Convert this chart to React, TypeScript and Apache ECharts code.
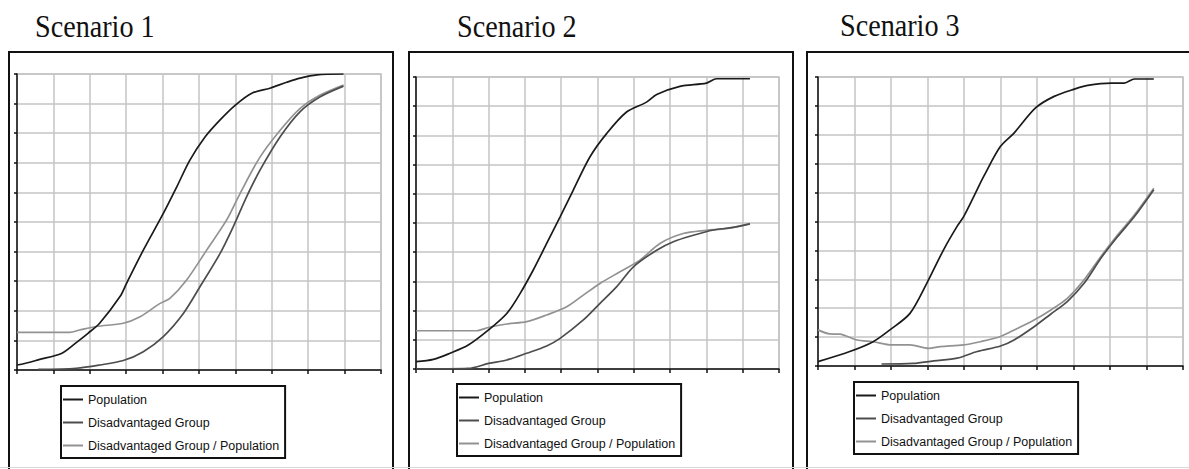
import React, { useEffect, useRef } from "react";
import * as echarts from "echarts";

const titles = ["Scenario 1", "Scenario 2", "Scenario 3"];
const seriesNames = ["Population", "Disadvantaged Group", "Disadvantaged Group / Population"];

const s1Population = [[0,0.017],[0.21,0.022],[0.6,0.035],[1.22,0.056],[1.6,0.09],[1.95,0.124],[2.27,0.158],[2.83,0.248],[3.01,0.293],[3.47,0.405],[4.02,0.529],[4.39,0.619],[4.75,0.709],[5.17,0.788],[5.58,0.845],[6.0,0.895],[6.45,0.935],[6.95,0.952],[7.41,0.972],[7.78,0.986],[8.24,0.997],[8.97,1.0]];
const s1Disadv = [[0.58,0.002],[1.63,0.006],[2.28,0.017],[2.92,0.032],[3.47,0.062],[4.02,0.113],[4.57,0.191],[5.03,0.282],[5.58,0.394],[5.94,0.484],[6.31,0.586],[6.68,0.676],[7.23,0.788],[7.78,0.873],[8.33,0.923],[8.97,0.959]];
const s1Ratio = [[0,0.127],[1.45,0.127],[1.72,0.135],[2.18,0.147],[2.92,0.158],[3.38,0.18],[3.93,0.225],[4.2,0.242],[4.66,0.304],[5.21,0.405],[5.76,0.507],[6.13,0.597],[6.68,0.72],[7.23,0.81],[7.78,0.884],[8.33,0.929],[8.97,0.963]];

const s2Population = [[0,0.025],[0.48,0.033],[0.94,0.054],[1.44,0.082],[1.99,0.133],[2.5,0.19],[2.87,0.259],[3.23,0.339],[3.6,0.43],[3.97,0.521],[4.33,0.612],[4.79,0.726],[5.25,0.806],[5.8,0.88],[6.35,0.914],[6.63,0.94],[7.27,0.968],[8.0,0.979],[8.28,0.994],[9.2,0.994]];
const s2Disadv = [[0,0],[1.44,0.002],[2.0,0.019],[2.5,0.031],[3.05,0.054],[3.6,0.079],[3.97,0.105],[4.61,0.168],[5.07,0.225],[5.53,0.282],[5.99,0.35],[6.63,0.407],[7.09,0.436],[7.64,0.458],[8.19,0.476],[8.74,0.485],[9.2,0.497]];
const s2Ratio = [[0,0.131],[1.67,0.131],[1.99,0.142],[2.5,0.154],[3.05,0.162],[3.6,0.185],[4.15,0.213],[4.61,0.253],[5.07,0.293],[5.62,0.333],[6.17,0.373],[6.72,0.43],[7.36,0.464],[8.0,0.475],[8.55,0.481],[9.2,0.498]];

const s3Population = [[0,0.015],[0.87,0.05],[1.51,0.084],[1.97,0.125],[2.52,0.182],[2.98,0.286],[3.44,0.402],[3.81,0.483],[3.99,0.517],[4.27,0.587],[4.54,0.656],[5.0,0.76],[5.37,0.806],[5.96,0.893],[6.47,0.933],[7.02,0.958],[7.39,0.971],[8.03,0.979],[8.39,0.979],[8.67,0.993],[9.2,0.993]];
const s3Disadv = [[1.74,0.007],[2.61,0.009],[3.17,0.018],[3.81,0.027],[4.36,0.05],[5.0,0.069],[5.37,0.09],[5.92,0.136],[6.38,0.18],[6.83,0.223],[7.29,0.286],[7.75,0.373],[8.21,0.448],[8.67,0.517],[9.2,0.61]];
const s3Ratio = [[0,0.125],[0.32,0.111],[0.6,0.11],[1.06,0.09],[1.51,0.084],[2.02,0.073],[2.52,0.073],[3.03,0.061],[3.35,0.067],[3.99,0.073],[4.45,0.084],[5.0,0.102],[5.46,0.13],[5.92,0.159],[6.38,0.194],[6.83,0.234],[7.29,0.298],[7.75,0.379],[8.21,0.454],[8.67,0.523],[9.2,0.615]];

const panels = [
  [s1Population, s1Disadv, s1Ratio],
  [s2Population, s2Disadv, s2Ratio],
  [s3Population, s3Disadv, s3Ratio],
];

const lineColors = ["#1a1a1a", "#4d4d4d", "#929292"];

const grids = [
  { left: 17, top: 74, width: 364, height: 296 },
  { left: 416, top: 77, width: 363, height: 292 },
  { left: 818, top: 77, width: 365, height: 289 },
];
const titlePos = [[35, 26], [457, 26], [840, 25]];
const legendPos = [[61, 386], [457, 384], [854, 382]];
const frames = [
  [[9, 470], [9, 52], [393, 52], [393, 470]],
  [[409, 470], [409, 52], [793, 52], [793, 470]],
  [[807, 470], [807, 52], [1192, 52]],
];

export default function App() {
  const ref = useRef<HTMLDivElement>(null);
  useEffect(() => {
    if (!ref.current) return;
    const chart = echarts.init(ref.current, null, { renderer: "svg" });
    const gridLine = { show: true, lineStyle: { color: "#c4c4c4", width: 1.5 } };
    const axisLine = { show: true, onZero: false, lineStyle: { color: "#111", width: 1.5 } };
    const series: any[] = [];
    panels.forEach((p, i) => {
      p.forEach((data, j) => {
        series.push({
          type: "line",
          name: seriesNames[j],
          xAxisIndex: i,
          yAxisIndex: i,
          data,
          symbol: "none",
          smooth: 0.3,
          z: 10 - j,
          lineStyle: { color: lineColors[j], width: 1.7 },
          itemStyle: { color: lineColors[j] },
        });
      });
    });
    chart.setOption({
      animation: false,
      backgroundColor: "#ffffff",
      grid: grids.map((g) => ({ ...g, show: true, borderColor: "#bdbdbd", borderWidth: 1.5 })),
      xAxis: grids.map((_, i) => ({
        type: "value", gridIndex: i, min: 0, max: 10, interval: 1,
        axisLabel: { show: false },
        axisLine,
        axisTick: { show: true, length: 4, lineStyle: { color: "#111", width: 1.5 } },
        splitLine: gridLine,
      })),
      yAxis: grids.map((_, i) => ({
        type: "value", gridIndex: i, min: 0, max: 1, interval: 0.1,
        axisLabel: { show: false },
        axisLine,
        axisTick: { show: true, length: 3, lineStyle: { color: "#111", width: 1.5 } },
        splitLine: gridLine,
      })),
      legend: legendPos.map(([x, y]) => ({
        left: x, top: y, orient: "vertical",
        data: seriesNames,
        icon: "rect",
        itemWidth: 20, itemHeight: 2, itemGap: 10,
        padding: [7, 6, 6, 2],
        borderColor: "#111", borderWidth: 2,
        backgroundColor: "#fff",
        selectedMode: false,
        textStyle: { fontFamily: "Liberation Sans, Arial, sans-serif", fontSize: 12.5, color: "#111", lineHeight: 12, height: 12 },
      })),
      graphic: [
        ...frames.map((pts) => ({
          type: "polyline", shape: { points: pts },
          style: { stroke: "#111", lineWidth: 2, fill: null }, silent: true,
        })),
        { type: "line", shape: { x1: 0, y1: 467.5, x2: 1189, y2: 467.5 }, style: { stroke: "#d8d8d8", lineWidth: 1 }, silent: true },
        ...titles.map((t, i) => ({
          type: "text", x: titlePos[i][0], y: titlePos[i][1], scaleX: 0.88,
          style: { text: t, fill: "#111", font: "32px 'Liberation Serif', 'Times New Roman', serif", verticalAlign: "middle" },
          silent: true,
        })),
      ],
      series,
    });
    return () => chart.dispose();
  }, []);
  return <div ref={ref} style={{ position: "fixed", left: 0, top: 0, width: 1189, height: 469, background: "#fff" }} />;
}
